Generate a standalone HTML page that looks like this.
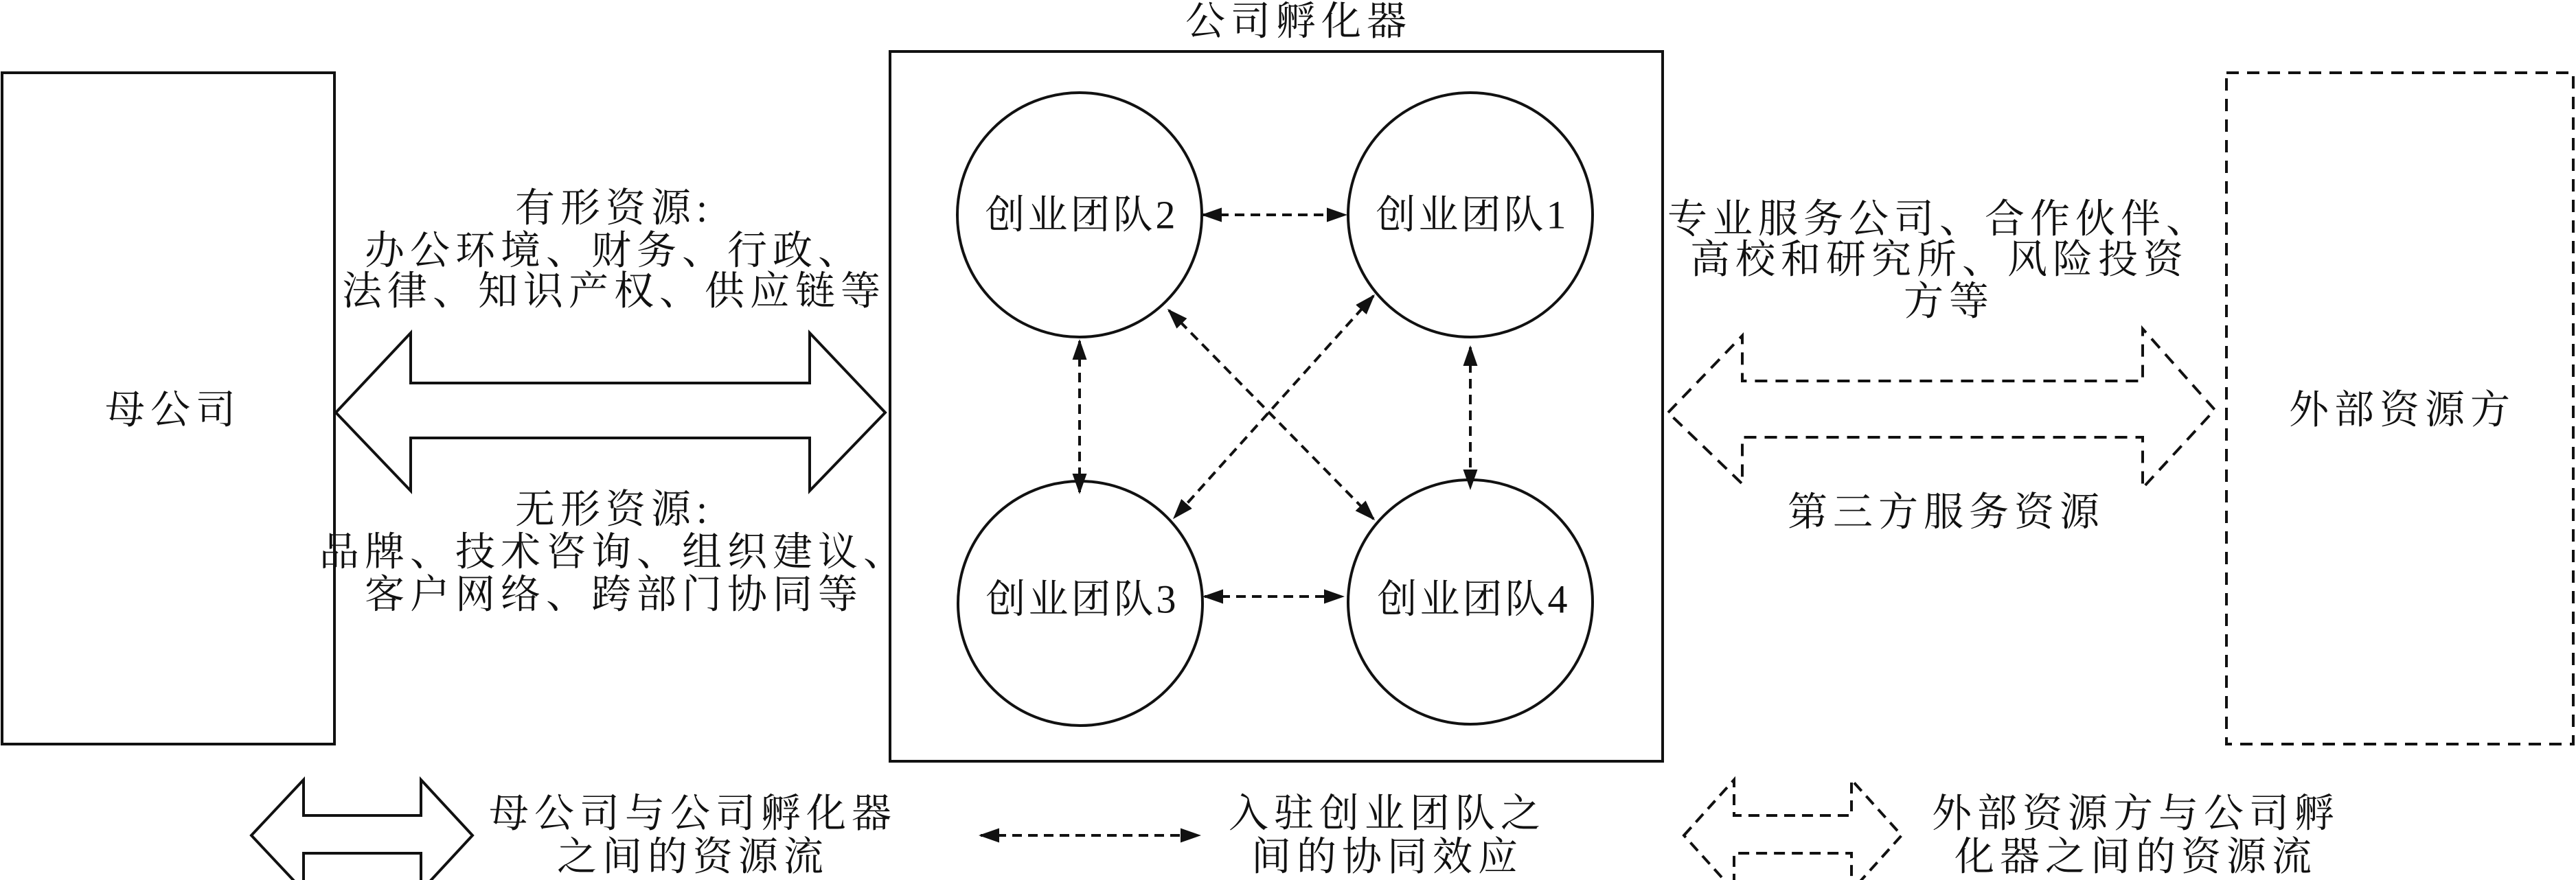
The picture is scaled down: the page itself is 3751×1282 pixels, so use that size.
<!DOCTYPE html>
<html><head><meta charset="utf-8"><style>
html,body{margin:0;padding:0;background:#fff;}
svg{display:block;}
text{font-family:"Liberation Serif","Noto Serif CJK SC",serif;font-size:58px;fill:#111;letter-spacing:8px;}
text.c{letter-spacing:4px;}
</style></head><body>
<svg width="3751" height="1282" viewBox="0 0 3751 1282" xmlns="http://www.w3.org/2000/svg">
<defs>
<marker id="a" viewBox="0 0 10 10" refX="9" refY="5" markerWidth="30" markerHeight="30" orient="auto-start-reverse" markerUnits="userSpaceOnUse">
<path d="M0,1.5 L10,5 L0,8.5 z" fill="#111"/>
</marker>
</defs>
<g fill="none" stroke="#111" stroke-width="4">
<rect x="3" y="106" width="484" height="978"/>
<rect x="1296" y="75" width="1125" height="1034"/>
<rect x="3242" y="106" width="505" height="978" stroke-dasharray="18,12"/>
<circle cx="1572" cy="313" r="178"/>
<circle cx="2141" cy="313" r="178"/>
<circle cx="1573" cy="879" r="178"/>
<circle cx="2141" cy="877" r="178"/>
<path d="M489,601 L598,485 L598,558 L1179,558 L1179,485 L1289,601 L1179,715 L1179,638 L598,638 L598,715 Z"/>
<path d="M2429,601 L2537,489 L2537,555 L3120,555 L3120,479 L3225,597 L3120,711 L3120,637 L2537,637 L2537,705 Z" stroke-dasharray="18,12"/>
<path d="M366,1217 L442,1136 L442,1188 L613,1188 L613,1136 L688,1217 L613,1298 L613,1243 L442,1243 L442,1298 Z"/>
<path d="M2452,1217 L2525,1136 L2525,1188 L2696,1188 L2696,1136 L2769,1217 L2696,1298 L2696,1243 L2525,1243 L2525,1298 Z" stroke-dasharray="16,10"/>
</g>
<g stroke="#111" stroke-width="4" stroke-dasharray="14,9" fill="none" marker-start="url(#a)" marker-end="url(#a)">
<line x1="1752" y1="313" x2="1959" y2="313"/>
<line x1="1754" y1="869" x2="1955" y2="869"/>
<line x1="1572" y1="497" x2="1572" y2="717"/>
<line x1="2141" y1="506" x2="2141" y2="711"/>
<line x1="1702" y1="452" x2="2000" y2="756"/>
<line x1="2000" y1="431" x2="1710" y2="754"/>
<line x1="1428" y1="1217" x2="1746" y2="1217"/>
</g>
<g text-anchor="middle" dominant-baseline="central">
<text x="1891" y="31">公司孵化器</text>
<text x="252" y="597">母公司</text>
<text x="894" y="303">有形资源:</text>
<text x="894" y="365">办公环境、财务、行政、</text>
<text x="894" y="424">法律、知识产权、供应链等</text>
<text x="894" y="742">无形资源:</text>
<text x="894" y="804">品牌、技术咨询、组织建议、</text>
<text x="894" y="866">客户网络、跨部门协同等</text>
<text class="c" x="1575" y="313">创业团队2</text>
<text class="c" x="2144" y="313">创业团队1</text>
<text class="c" x="1576" y="873">创业团队3</text>
<text class="c" x="2146" y="873">创业团队4</text>
<text x="2824" y="319">专业服务公司、合作伙伴、</text>
<text x="2824" y="378">高校和研究所、风险投资</text>
<text x="2838" y="439">方等</text>
<text x="2834" y="746">第三方服务资源</text>
<text x="3498" y="597">外部资源方</text>
<text x="1009" y="1185">母公司与公司孵化器</text>
<text x="1009" y="1248">之间的资源流</text>
<text x="2020" y="1185">入驻创业团队之</text>
<text x="2020" y="1248">间的协同效应</text>
<text x="3110" y="1185">外部资源方与公司孵</text>
<text x="3110" y="1248">化器之间的资源流</text>
</g>
</svg>
</body></html>
